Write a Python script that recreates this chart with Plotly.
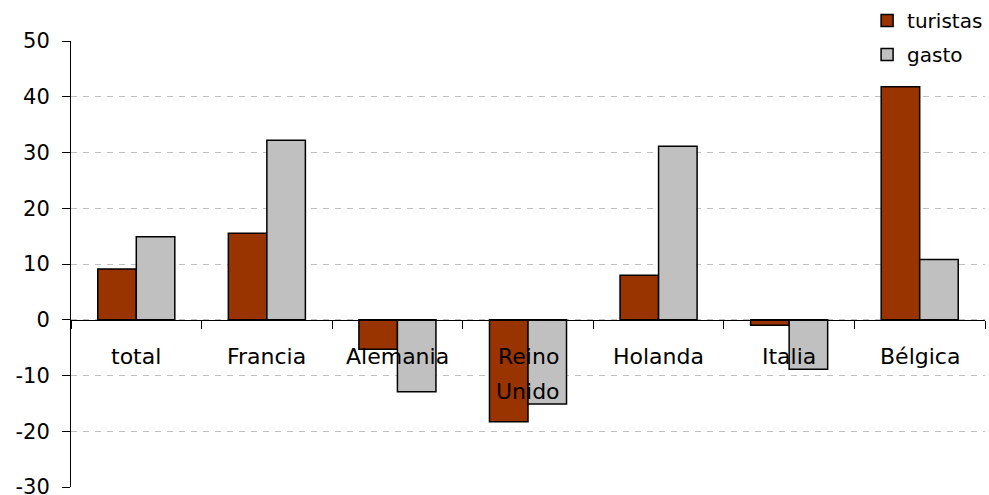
import plotly.graph_objects as go

categories = ["total", "Francia", "Alemania", "Reino Unido", "Holanda", "Italia", "Bélgica"]
turistas = [9.1, 15.5, -5.3, -18.3, 8.0, -1.0, 41.8]
gasto = [14.9, 32.2, -12.9, -15.1, 31.1, -8.9, 10.8]
y_ticks = [-30, -20, -10, 0, 10, 20, 30, 40, 50]
y_ticktext = ["-30", "-20", "-10", "0", "10", "20", "30", "40", "50"]

FONT = "DejaVu Sans"

fig = go.Figure()
fig.add_trace(go.Bar(
    x=categories, y=turistas, name="turistas",
    marker=dict(color="#993300", line=dict(color="black", width=1.5)),
    legendgroup="a",
))
fig.add_trace(go.Bar(
    x=categories, y=gasto, name="gasto",
    marker=dict(color="#C0C0C0", line=dict(color="black", width=1.5)),
    legendgroup="b",
))

# category labels drawn just below the zero line
annotations = []
for cat in categories:
    lines = cat.split(" ")
    for i, line in enumerate(lines):
        annotations.append(dict(
            x=cat, y=0, xref="x", yref="y", text=line, showarrow=False,
            yanchor="middle", xanchor="center", yshift=-37 - 35 * i,
            font=dict(family=FONT, size=22, color="black"),
        ))

fig.update_layout(
    width=989, height=495,
    margin=dict(l=71, r=4, t=41, b=8, autoexpand=False),
    paper_bgcolor="white", plot_bgcolor="white",
    barmode="group", bargap=0.41, bargroupgap=0,
    font=dict(family=FONT, size=20, color="black"),
    showlegend=True,
    legend=dict(
        xref="paper", yref="paper",
        x=0.871, y=1.0895, xanchor="left", yanchor="top",
        font=dict(family=FONT, size=20, color="black"),
        bgcolor="rgba(0,0,0,0)", tracegroupgap=5,
    ),
    annotations=annotations,
    xaxis=dict(
        type="category", anchor="free", position=0.375,
        showline=True, linecolor="black", linewidth=1,
        ticks="outside", tickson="boundaries", ticklen=8, tickcolor="black",
        showticklabels=False, showgrid=False, zeroline=False,
    ),
    yaxis=dict(
        range=[-30, 50], tickvals=y_ticks, ticktext=y_ticktext,
        showline=True, linecolor="black", linewidth=1,
        ticks="outside", ticklen=8, tickcolor="black",
        showgrid=True, gridcolor="#C0C0C0", griddash="6px,6px", gridwidth=1,
        zeroline=False, ticklabeloverflow="allow", ticklabelstandoff=8,
        tickfont=dict(family=FONT, size=21, color="black"),
    ),
)

fig.write_html(
    "out.html",
    config={"displayModeBar": False},
    post_script="document.body.style.margin='0px';",
)
